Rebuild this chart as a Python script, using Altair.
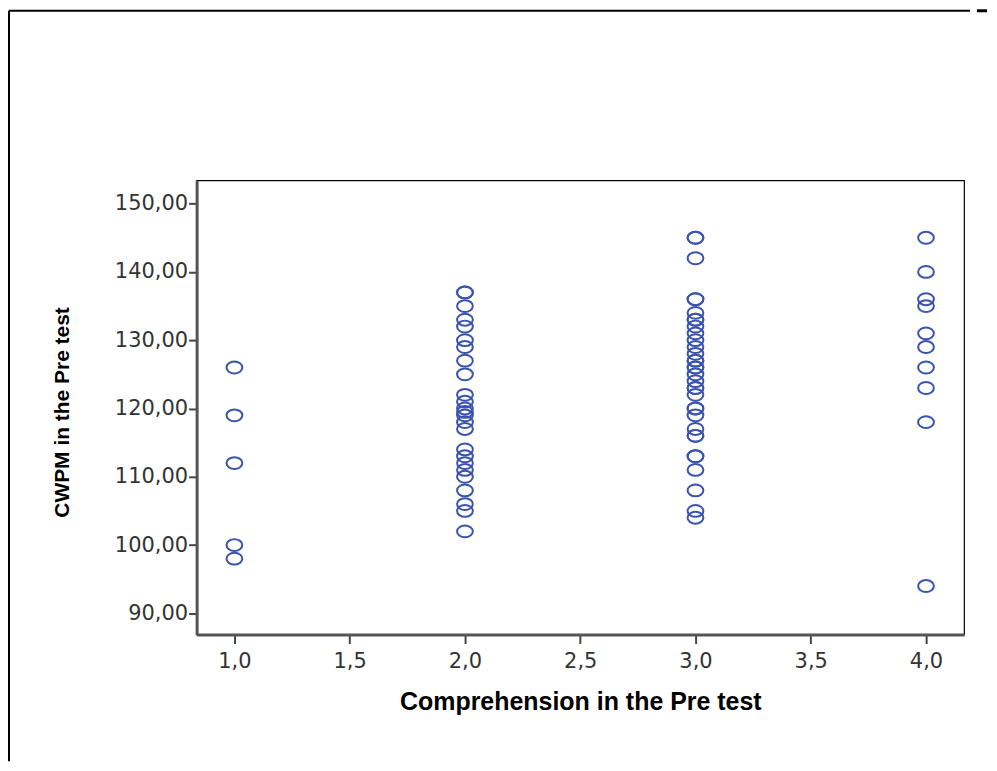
import altair as alt
import pandas as pd

# Data
comp_1 = [126, 119, 112, 100, 98]
comp_2 = [137, 137, 135, 133, 132, 130, 129, 127, 125, 122, 121, 120, 119.5, 119, 118, 117,
          114, 113, 112, 111, 110, 108, 106, 105, 102]
comp_3 = [145, 145, 142, 136, 136, 134, 133, 133, 132, 131, 130, 129, 128, 127, 127, 126, 126,
          125, 124, 123, 123, 122, 120, 120, 119, 117, 116, 116, 113, 113, 111, 108, 105, 104]
comp_4 = [145, 140, 136, 135, 131, 129, 126, 123, 118, 94]

x_vals = []
y_vals = []
for xv, col in [(1, comp_1), (2, comp_2), (3, comp_3), (4, comp_4)]:
    for v in col:
        x_vals.append(xv)
        y_vals.append(v)

df = pd.DataFrame({"comp": x_vals, "cwpm": y_vals})

x_ticks = [1.0, 1.5, 2.0, 2.5, 3.0, 3.5, 4.0]
y_ticks = [90, 100, 110, 120, 130, 140, 150]

PW, PH = 769, 455

ellipse = "M -1 0 A 1 0.75 0 1 0 1 0 A 1 0.75 0 1 0 -1 0 Z"

points = alt.Chart(df).mark_point(
    shape=ellipse, filled=False, size=250, strokeWidth=2, color="#3a54ad", opacity=1
).encode(
    x=alt.X("comp:Q", scale=alt.Scale(domain=[0.836, 4.165], nice=False, zero=False),
            axis=alt.Axis(values=x_ticks, title="Comprehension in the Pre test",
                          labelExpr="replace(format(datum.value, '.1f'), '.', ',')",
                          grid=False, domainColor="#555555", domainWidth=3,
                          tickColor="#444444", tickWidth=2, tickSize=9,
                          labelFont="DejaVu Sans", labelFontSize=21, labelColor="#333333",
                          labelPadding=7,
                          titleFont="Liberation Sans", titleFontSize=25, titleFontWeight="bold",
                          titleColor="#000000", titleX=PW / 2, titleY=67,
                          titleBaseline="middle", titleAlign="center")),
    y=alt.Y("cwpm:Q", scale=alt.Scale(domain=[86.9, 153.4], nice=False, zero=False),
            axis=alt.Axis(values=y_ticks, title="CWPM in the Pre test",
                          labelExpr="replace(format(datum.value, '.2f'), '.', ',')",
                          grid=False, domainColor="#555555", domainWidth=3,
                          tickColor="#444444", tickWidth=2, tickSize=8,
                          labelFont="DejaVu Sans", labelFontSize=21, labelColor="#333333",
                          labelPadding=1,
                          titleFont="Liberation Sans", titleFontSize=21, titleFontWeight="bold",
                          titleColor="#000000", titleAngle=-90, titleX=-134, titleY=232,
                          titleBaseline="middle", titleAlign="center")),
)

frame_src = alt.Data(values=[{"a": 1}])
left_line = alt.Chart(frame_src).mark_rule(color="#000000", strokeWidth=2).encode(
    x=alt.value(-188), y=alt.value(-170), y2=alt.value(582))
top_line = alt.Chart(frame_src).mark_rule(color="#000000", strokeWidth=2).encode(
    x=alt.value(-188), x2=alt.value(775), y=alt.value(-170))
top_right = alt.Chart(frame_src).mark_rule(color="#000000", strokeWidth=3).encode(
    x=alt.value(782), x2=alt.value(792), y=alt.value(-170))

chart = alt.layer(points, left_line, top_line, top_right).properties(
    width=PW, height=PH, padding=0, background="#ffffff"
).configure_view(stroke="#000000", strokeWidth=1.2)

chart.save("out.html", embed_options={"renderer": "svg", "actions": False})
